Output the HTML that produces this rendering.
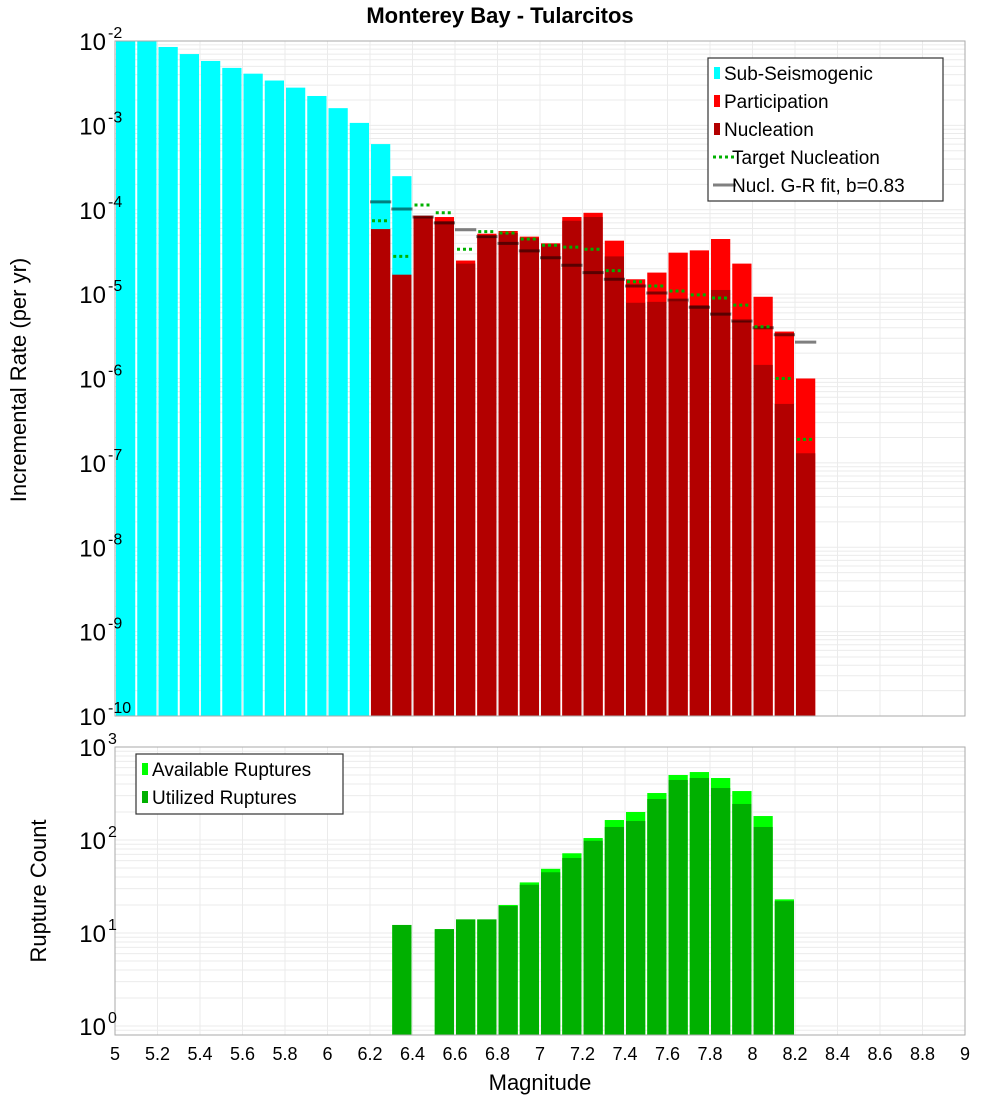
<!DOCTYPE html>
<html><head><meta charset="utf-8"><style>
body{margin:0;background:#fff;}
svg{display:block;font-family:"Liberation Sans","DejaVu Sans",sans-serif;}
</style></head><body>
<svg id="c" width="1000" height="1100" viewBox="0 0 1000 1100" xmlns="http://www.w3.org/2000/svg">
<rect width="1000" height="1100" fill="#fff"/>
<text x="500" y="23" text-anchor="middle" font-size="22" font-weight="bold">Monterey Bay - Tularcitos</text>
<g id="topg"></g>
<g id="botg"></g>
<text transform="translate(26,380) rotate(-90)" text-anchor="middle" font-size="22">Incremental Rate (per yr)</text>
<text transform="translate(46,891) rotate(-90)" text-anchor="middle" font-size="22">Rupture Count</text>
<text x="540" y="1090" text-anchor="middle" font-size="22">Magnitude</text>
</svg>
<script>
const xTicks=[5,5.2,5.4,5.6,5.8,6,6.2,6.4,6.6,6.8,7,7.2,7.4,7.6,7.8,8,8.2,8.4,8.6,8.8,9];
const cyanMags=[5.05,5.15,5.25,5.35,5.45,5.55,5.65,5.75,5.85,5.95,6.05,6.15,6.25,6.35];
const cyanVals=[1.2e-2,1.05e-2,8.5e-3,7.0e-3,5.8e-3,4.8e-3,4.1e-3,3.4e-3,2.8e-3,2.23e-3,1.6e-3,1.07e-3,6.0e-4,2.5e-4];
const redMags=[6.25,6.35,6.45,6.55,6.65,6.75,6.85,6.95,7.05,7.15,7.25,7.35,7.45,7.55,7.65,7.75,7.85,7.95,8.05,8.15,8.25];
const partVals=[6.0e-5,1.8e-5,8.5e-5,8.2e-5,2.5e-5,5.2e-5,5.6e-5,4.8e-5,4.0e-5,8.2e-5,9.2e-5,4.3e-5,1.5e-5,1.8e-5,3.1e-5,3.3e-5,4.5e-5,2.3e-5,9.3e-6,3.6e-6,1.0e-6];
const nuclVals=[5.9e-5,1.7e-5,8.2e-5,7.3e-5,2.3e-5,4.9e-5,5.3e-5,4.6e-5,3.9e-5,7.4e-5,8.2e-5,2.8e-5,7.9e-6,8.1e-6,8.1e-6,7.4e-6,1.12e-5,4.8e-6,1.45e-6,5.0e-7,1.3e-7];
const targetVals=[7.4e-5,2.8e-5,1.14e-4,9.2e-5,3.4e-5,5.5e-5,5.3e-5,4.5e-5,3.8e-5,3.6e-5,3.4e-5,1.9e-5,1.4e-5,1.25e-5,1.09e-5,9.8e-6,9.0e-6,7.4e-6,4.1e-6,1.0e-6,1.9e-7];
const grVals=[1.24e-4,1.02e-4,8.2e-5,7.0e-5,5.8e-5,4.8e-5,4.0e-5,3.25e-5,2.7e-5,2.2e-5,1.8e-5,1.5e-5,1.25e-5,1.03e-5,8.5e-6,7.0e-6,5.8e-6,4.8e-6,4.0e-6,3.3e-6,2.7e-6];
const countMags=[6.35,6.45,6.55,6.65,6.75,6.85,6.95,7.05,7.15,7.25,7.35,7.45,7.55,7.65,7.75,7.85,7.95,8.05,8.15];
const availVals=[12.2,0,11,14,14,20,35,49,72,105,164,200,320,500,538,464,336,181,23];
const utilVals=[12.2,0,11,14,14,19.5,33,45,64,98,138,160,276,442,464,362,244,138,22];
const rateExps=[-2,-3,-4,-5,-6,-7,-8,-9,-10];
const countExps=[3,2,1,0];

const NS='http://www.w3.org/2000/svg';
const X0=115,X1=965;
const T0=41,T1=716,TMAX=-2,TMIN=-10;
const B0=747,B1=1035,BMAX=3,BPX=93;
function xs(m){return X0+(m-5)*(X1-X0)/4;}
function yt(v){return T0+(TMAX-Math.log10(v))*(T1-T0)/(TMAX-TMIN);}
function yb(v){return B0+(BMAX-Math.log10(v))*BPX;}
function mk(tag,attrs,parent){const e=document.createElementNS(NS,tag);for(const k in attrs)e.setAttribute(k,attrs[k]);parent.appendChild(e);return e;}
const topG=document.getElementById('topg'),botG=document.getElementById('botg'),svgEl=document.getElementById('c');
const BW=(X1-X0)/40;

function grid(g,y0,y1,yfun,emin,emax){
  for(let e=emin;e<emax;e++){for(let k=1;k<=9;k++){const y=yfun(k*Math.pow(10,e));if(y<y0-0.5||y>y1+0.5)continue;
    const l=mk('line',{x1:X0,x2:X1,y1:y,y2:y,stroke:'#ebebeb','stroke-width':1},g);
    
    }}
  xTicks.forEach(t=>{const l=mk('line',{x1:xs(t),x2:xs(t),y1:y0,y2:y1,stroke:'#ebebeb','stroke-width':1},g);
    
    });
}
grid(topG,T0,T1,yt,-10,-1);
grid(botG,B0,B1,yb,-1,4);

function bar(g,m,v,fill,yfun,ybot,ytop,name){
  if(!(v>0))return;
  let y=Math.max(yfun(v),ytop);
  const r=mk('rect',{x:xs(m-0.05)+1,y:y,width:BW-2,height:ybot-y,fill:fill},g);
  
  
}
redMags.forEach((m,i)=>bar(topG,m,partVals[i],'#ff0000',yt,T1,T0,'participation-bar'));
cyanMags.forEach((m,i)=>bar(topG,m,cyanVals[i],'#00ffff',yt,T1,T0,'sub-seismogenic-bar'));
redMags.forEach((m,i)=>bar(topG,m,nuclVals[i],'#b30000',yt,T1,T0,'nucleation-bar'));
redMags.forEach((m,i)=>{const y=yt(grVals[i]);
  const l=mk('line',{x1:xs(m-0.05),x2:xs(m+0.05),y1:y,y2:y,stroke:'rgba(0,0,0,0.5)','stroke-width':3},topG);
  
  });
redMags.forEach((m,i)=>{const y=yt(targetVals[i]);
  const l=mk('line',{x1:xs(m-0.05)+2,x2:xs(m+0.05)-2,y1:y,y2:y,stroke:'#00b000','stroke-width':3,'stroke-dasharray':'3,3'},topG);
  
  });
countMags.forEach((m,i)=>bar(botG,m,availVals[i],'#00ff00',yb,B1,B0,'available-ruptures-bar'));
countMags.forEach((m,i)=>bar(botG,m,utilVals[i],'#00b000',yb,B1,B0,'utilized-ruptures-bar'));

[[T0,T1,topG],[B0,B1,botG]].forEach(([a,b,g])=>{const r=mk('rect',{x:X0,y:a,width:X1-X0,height:b-a,fill:'none',stroke:'#aaa','stroke-width':1},g);
  
  });

function ylab(g,y,e,name){
  const t=mk('text',{x:106,y:y+9,'text-anchor':'end','font-size':24},g);
  
  
  t.textContent='10';
  const s=mk('text',{x:108,y:y-3,'font-size':16},g);
  
  
  s.textContent=String(e);
}
rateExps.forEach(e=>ylab(topG,yt(Math.pow(10,e)),e,'y-tick-label-rate'));
countExps.forEach(e=>ylab(botG,yb(Math.pow(10,e)),e,'y-tick-label-count'));
xTicks.forEach(t=>{const tx=mk('text',{x:xs(t),y:1060,'text-anchor':'middle','font-size':18},svgEl);
  
  
  tx.textContent=String(t);});

function legend(g,x,y,w,h,items,name){
  const lg=mk('g',{},g);
  
  
  mk('rect',{x:x,y:y,width:w,height:h,fill:'#fff',stroke:'#333','stroke-width':1.2},lg);
  items.forEach((it,i)=>{const cy=y+15+i*28;
    if(it.t==='box')mk('rect',{x:x+6,y:cy-6,width:6,height:12,fill:it.c},lg);
    else mk('line',{x1:x+5,x2:x+28,y1:cy,y2:cy,stroke:it.c,'stroke-width':3,'stroke-dasharray':it.d||'none'},lg);
    const t=mk('text',{x:x+(it.t==='box'?16:24),y:cy+7,'font-size':19},lg);
    
    
    t.textContent=it.l;});
}
legend(topG,708,58,235,143,[{t:'box',c:'#00ffff',l:'Sub-Seismogenic'},{t:'box',c:'#ff0000',l:'Participation'},{t:'box',c:'#b30000',l:'Nucleation'},{t:'line',c:'#00b000',d:'3,3',l:'Target Nucleation'},{t:'line',c:'#808080',l:'Nucl. G-R fit, b=0.83'}],'rate-legend');
legend(botG,136,754,207,60,[{t:'box',c:'#00ff00',l:'Available Ruptures'},{t:'box',c:'#00b000',l:'Utilized Ruptures'}],'count-legend');
</script>
</body></html>
